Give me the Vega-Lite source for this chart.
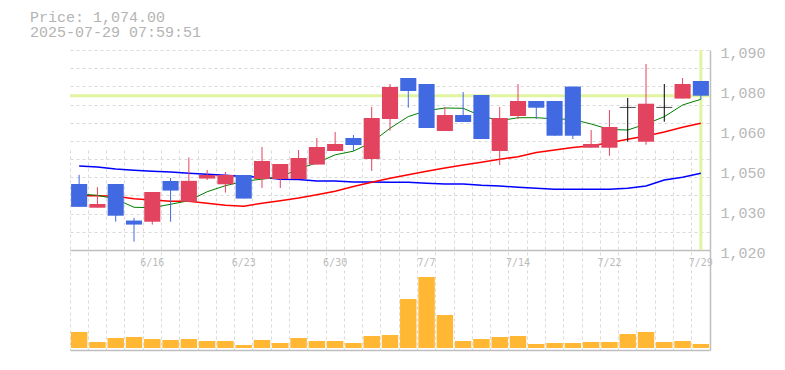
{
  "$schema": "https://vega.github.io/schema/vega-lite/v6.json",
  "width": 640,
  "height": 300,
  "autosize": {"type": "none"},
  "padding": {"left": 70, "top": 50, "right": 75, "bottom": 20},
  "background": "white",
  "title": {
    "text": ["Price: 1,074.00", "2025-07-29 07:59:51"],
    "anchor": "start",
    "frame": "group",
    "dx": -40,
    "offset": 5,
    "font": "Liberation Mono",
    "fontSize": 15,
    "fontWeight": "normal",
    "color": "#b4b4b4",
    "lineHeight": 15.5
  },
  "config": {"view": {"stroke": null}},
  "datasets": {
    "ohlc": [
      {"d": "6/10", "o": 1043.1, "h": 1046.3, "l": 1035.1, "c": 1035.1, "v": 160000, "ma5": 1039.6, "ma25": 1039.0, "ma75": 1049.4},
      {"d": "6/11", "o": 1034.8, "h": 1042.0, "l": 1034.8, "c": 1036.1, "v": 60000, "ma5": 1039.15, "ma25": 1039.0, "ma75": 1049.05},
      {"d": "6/12", "o": 1043.1, "h": 1043.1, "l": 1029.9, "c": 1032.0, "v": 100000, "ma5": 1037.85, "ma25": 1038.8, "ma75": 1048.35},
      {"d": "6/13", "o": 1030.3, "h": 1031.2, "l": 1022.9, "c": 1028.9, "v": 110000, "ma5": 1034.95, "ma25": 1037.95, "ma75": 1047.9},
      {"d": "6/16", "o": 1029.9, "h": 1040.3, "l": 1028.9, "c": 1040.3, "v": 90000, "ma5": 1034.8, "ma25": 1037.5, "ma75": 1047.55},
      {"d": "6/17", "o": 1044.15, "h": 1045.2, "l": 1029.9, "c": 1040.8, "v": 80000, "ma5": 1036.0, "ma25": 1037.05, "ma75": 1047.3},
      {"d": "6/18", "o": 1036.9, "h": 1052.4, "l": 1036.9, "c": 1044.2, "v": 90000, "ma5": 1037.25, "ma25": 1037.05, "ma75": 1046.85},
      {"d": "6/19", "o": 1045.0, "h": 1048.0, "l": 1044.5, "c": 1046.25, "v": 70000, "ma5": 1040.4, "ma25": 1036.35, "ma75": 1046.5},
      {"d": "6/20", "o": 1043.0, "h": 1047.3, "l": 1040.1, "c": 1046.25, "v": 70000, "ma5": 1042.5, "ma25": 1035.65, "ma75": 1046.15},
      {"d": "6/23", "o": 1046.25, "h": 1046.25, "l": 1038.0, "c": 1038.0, "v": 30000, "ma5": 1044.05, "ma25": 1035.3, "ma75": 1045.7},
      {"d": "6/24", "o": 1044.85, "h": 1056.05, "l": 1041.7, "c": 1051.15, "v": 80000, "ma5": 1044.8, "ma25": 1036.35, "ma75": 1045.45},
      {"d": "6/25", "o": 1044.85, "h": 1050.1, "l": 1041.7, "c": 1050.1, "v": 50000, "ma5": 1045.5, "ma25": 1037.25, "ma75": 1044.75},
      {"d": "6/26", "o": 1044.85, "h": 1055.0, "l": 1044.85, "c": 1052.2, "v": 100000, "ma5": 1048.4, "ma25": 1038.2, "ma75": 1044.7},
      {"d": "6/27", "o": 1049.9, "h": 1059.2, "l": 1049.9, "c": 1056.05, "v": 70000, "ma5": 1050.5, "ma25": 1039.35, "ma75": 1044.15},
      {"d": "6/30", "o": 1054.65, "h": 1061.3, "l": 1054.65, "c": 1057.1, "v": 70000, "ma5": 1053.3, "ma25": 1040.55, "ma75": 1044.15},
      {"d": "7/1", "o": 1059.2, "h": 1060.25, "l": 1054.65, "c": 1056.75, "v": 50000, "ma5": 1054.6, "ma25": 1042.2, "ma75": 1043.8},
      {"d": "7/2", "o": 1051.85, "h": 1070.05, "l": 1047.65, "c": 1066.2, "v": 120000, "ma5": 1057.7, "ma25": 1043.7, "ma75": 1043.8},
      {"d": "7/3", "o": 1065.85, "h": 1078.1, "l": 1061.75, "c": 1077.05, "v": 130000, "ma5": 1062.6, "ma25": 1045.1, "ma75": 1043.7},
      {"d": "7/4", "o": 1080.2, "h": 1080.2, "l": 1069.8, "c": 1075.65, "v": 490000, "ma5": 1066.7, "ma25": 1046.35, "ma75": 1043.7},
      {"d": "7/7", "o": 1078.1, "h": 1078.1, "l": 1062.7, "c": 1062.7, "v": 710000, "ma5": 1068.75, "ma25": 1047.55, "ma75": 1043.35},
      {"d": "7/8", "o": 1061.65, "h": 1070.05, "l": 1061.65, "c": 1067.25, "v": 330000, "ma5": 1069.7, "ma25": 1048.7, "ma75": 1043.1},
      {"d": "7/9", "o": 1067.25, "h": 1075.3, "l": 1064.8, "c": 1064.8, "v": 70000, "ma5": 1069.6, "ma25": 1049.75, "ma75": 1043.1},
      {"d": "7/10", "o": 1074.25, "h": 1074.25, "l": 1058.85, "c": 1058.85, "v": 90000, "ma5": 1066.9, "ma25": 1050.7, "ma75": 1042.65},
      {"d": "7/11", "o": 1054.65, "h": 1070.05, "l": 1049.75, "c": 1066.2, "v": 110000, "ma5": 1065.25, "ma25": 1051.75, "ma75": 1042.4},
      {"d": "7/14", "o": 1066.9, "h": 1078.1, "l": 1065.85, "c": 1072.15, "v": 120000, "ma5": 1066.3, "ma25": 1052.65, "ma75": 1041.95},
      {"d": "7/15", "o": 1072.15, "h": 1072.15, "l": 1065.85, "c": 1069.8, "v": 40000, "ma5": 1066.3, "ma25": 1054.1, "ma75": 1041.6},
      {"d": "7/16", "o": 1072.15, "h": 1072.15, "l": 1060.0, "c": 1060.0, "v": 50000, "ma5": 1065.9, "ma25": 1055.0, "ma75": 1041.25},
      {"d": "7/17", "o": 1077.2, "h": 1077.2, "l": 1058.85, "c": 1060.0, "v": 50000, "ma5": 1065.7, "ma25": 1055.9, "ma75": 1041.25},
      {"d": "7/18", "o": 1055.8, "h": 1062.0, "l": 1055.8, "c": 1057.1, "v": 60000, "ma5": 1064.1, "ma25": 1056.5, "ma75": 1041.25},
      {"d": "7/22", "o": 1055.8, "h": 1069.0, "l": 1053.0, "c": 1063.05, "v": 60000, "ma5": 1062.2, "ma25": 1057.55, "ma75": 1041.25},
      {"d": "7/23", "o": 1069.9, "h": 1073.2, "l": 1057.9, "c": 1069.9, "v": 140000, "ma5": 1062.0, "ma25": 1058.75, "ma75": 1041.6},
      {"d": "7/24", "o": 1057.9, "h": 1085.1, "l": 1056.85, "c": 1071.2, "v": 160000, "ma5": 1064.1, "ma25": 1059.9, "ma75": 1042.4},
      {"d": "7/25", "o": 1069.9, "h": 1078.1, "l": 1064.9, "c": 1069.9, "v": 60000, "ma5": 1066.65, "ma25": 1061.3, "ma75": 1044.5},
      {"d": "7/28", "o": 1073.0, "h": 1080.2, "l": 1073.0, "c": 1078.1, "v": 70000, "ma5": 1070.75, "ma25": 1062.95, "ma75": 1045.45},
      {"d": "7/29", "o": 1079.15, "h": 1079.15, "l": 1072.7, "c": 1074.0, "v": 40000, "ma5": 1072.75, "ma25": 1064.35, "ma75": 1046.85}
    ]
  },
  "data": {"name": "ohlc"},
  "resolve": {"scale": {"y": "independent"}, "axis": {"x": "independent", "y": "independent"}},
  "layer": [
    {
      "data": {"values": [{}]},
      "mark": {"type": "rule", "color": "#e1f5a1", "strokeWidth": 3},
      "encoding": {
        "y": {"datum": 1074, "type": "quantitative", "scale": {"domain": [1020, 1090], "range": [200, 0], "nice": false, "zero": false}, "axis": null}
      }
    },
    {
      "data": {"values": [{}]},
      "mark": {"type": "rule", "color": "#e1f5a1", "strokeWidth": 3},
      "encoding": {
        "x": {"datum": "7/29", "type": "ordinal", "axis": null},
        "y": {"datum": 1090, "type": "quantitative", "scale": {"domain": [1020, 1090], "range": [200, 0], "nice": false, "zero": false}, "axis": null},
        "y2": {"datum": 1020}
      }
    },
    {
      "mark": {"type": "line", "color": "#0000ff", "strokeWidth": 1.5},
      "encoding": {
        "x": {
          "field": "d", "type": "ordinal", "sort": null,
          "scale": {"type": "band", "paddingInner": 0, "paddingOuter": 0,
            "domain": ["6/10","6/11","6/12","6/13","6/16","6/17","6/18","6/19","6/20","6/23","6/24","6/25","6/26","6/27","6/30","7/1","7/2","7/3","7/4","7/7","7/8","7/9","7/10","7/11","7/14","7/15","7/16","7/17","7/18","7/22","7/23","7/24","7/25","7/28","7/29"]},
          "axis": {"orient": "bottom", "bandPosition": 0, "grid": true, "gridColor": "#d9d9d9", "gridDash": [3, 3], "gridWidth": 1, "labels": false, "ticks": false, "domain": true, "domainColor": "#bfbfbf", "domainWidth": 1.5, "title": null}
        },
        "y": {
          "field": "ma75", "type": "quantitative",
          "scale": {"domain": [1020, 1090], "range": [200, 0], "nice": false, "zero": false},
          "axis": {"orient": "left", "values": [1020, 1026.3636, 1032.7273, 1039.0909, 1045.4545, 1051.8182, 1058.1818, 1064.5455, 1070.9091, 1077.2727, 1083.6364, 1090], "grid": true, "gridColor": "#d9d9d9", "gridDash": [3, 3], "gridWidth": 1, "labels": false, "ticks": false, "domain": false, "title": null}
        }
      }
    },
    {
      "mark": {"type": "line", "color": "#ff0000", "strokeWidth": 1.5},
      "encoding": {
        "x": {"field": "d", "type": "ordinal", "sort": null, "axis": null},
        "y": {"field": "ma25", "type": "quantitative", "scale": {"domain": [1020, 1090], "range": [200, 0], "nice": false, "zero": false}, "axis": null}
      }
    },
    {
      "mark": {"type": "line", "color": "#008000", "strokeWidth": 1},
      "encoding": {
        "x": {"field": "d", "type": "ordinal", "sort": null, "axis": null},
        "y": {"field": "ma5", "type": "quantitative", "scale": {"domain": [1020, 1090], "range": [200, 0], "nice": false, "zero": false}, "axis": null}
      }
    },
    {
      "mark": {"type": "rule", "strokeWidth": 1},
      "encoding": {
        "x": {"field": "d", "type": "ordinal", "sort": null, "axis": null},
        "y": {"field": "l", "type": "quantitative", "scale": {"domain": [1020, 1090], "range": [200, 0], "nice": false, "zero": false}, "axis": null},
        "y2": {"field": "h"},
        "color": {"condition": [{"test": "datum.c > datum.o", "value": "#e2435f"}, {"test": "datum.c < datum.o", "value": "#4169e1"}], "value": "#000000"}
      }
    },
    {
      "transform": [{"filter": "datum.o != datum.c"}],
      "mark": {"type": "bar", "width": {"band": 0.88}},
      "encoding": {
        "x": {
          "field": "d", "type": "ordinal", "sort": null,
          "axis": {"orient": "bottom", "offset": -100, "values": ["6/16", "6/23", "6/30", "7/7", "7/14", "7/22", "7/29"], "grid": false, "ticks": false, "domain": true, "domainColor": "#bfbfbf", "domainWidth": 1.5, "labelFont": "DejaVu Sans Mono", "labelFontSize": 10, "labelColor": "#bbbbbb", "labelPadding": 7, "labelOverlap": false, "labelBound": false, "labelFlush": false, "labelAngle": 0, "title": null}
        },
        "y": {
          "field": "o", "type": "quantitative",
          "scale": {"domain": [1020, 1090], "range": [200, 0], "nice": false, "zero": false},
          "axis": {"orient": "right", "values": [1020, 1034, 1048, 1062, 1076, 1090], "labelExpr": "format(round(datum.value/10)*10, ',')", "grid": false, "ticks": false, "domain": true, "domainColor": "#bfbfbf", "domainWidth": 1.5, "labelFont": "Liberation Mono", "labelFontSize": 15, "labelColor": "#b8b8b8", "labelPadding": 10, "labelBaseline": "middle", "labelOffset": 2, "labelOverlap": false, "labelBound": false, "labelFlush": false, "title": null}
        },
        "y2": {"field": "c"},
        "color": {"condition": {"test": "datum.c > datum.o", "value": "#e2435f"}, "value": "#4169e1"}
      }
    },
    {
      "transform": [{"filter": "datum.o == datum.c"}],
      "mark": {"type": "tick", "color": "#000000", "size": 16, "thickness": 1, "orient": "horizontal"},
      "encoding": {
        "x": {"field": "d", "type": "ordinal", "sort": null, "axis": null},
        "y": {"field": "c", "type": "quantitative", "scale": {"domain": [1020, 1090], "range": [200, 0], "nice": false, "zero": false}, "axis": null}
      }
    },
    {
      "mark": {"type": "bar", "color": "#ffb734", "width": {"band": 0.9}},
      "encoding": {
        "x": {"field": "d", "type": "ordinal", "sort": null, "axis": null},
        "y": {
          "field": "v", "type": "quantitative",
          "scale": {"domain": [-20000, 980000], "range": [300, 200], "nice": false, "zero": false},
          "axis": {"orient": "right", "labels": false, "ticks": false, "grid": false, "domain": true, "domainColor": "#bfbfbf", "domainWidth": 1.5, "title": null}
        }
      }
    }
  ]
}
